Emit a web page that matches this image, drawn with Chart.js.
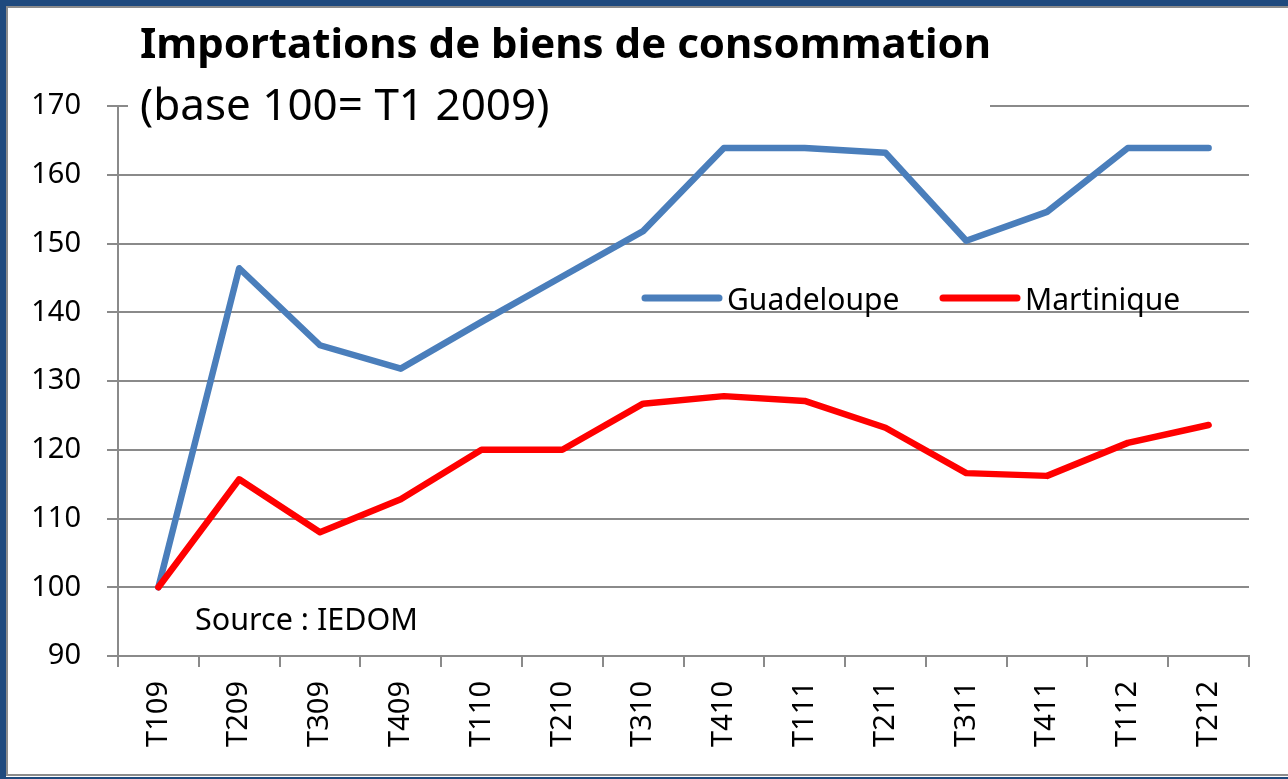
<!DOCTYPE html>
<html>
<head>
<meta charset="utf-8">
<script src="https://cdn.jsdelivr.net/npm/chart.js@4/dist/chart.umd.min.js"></script>
<style>
  html, body { margin:0; padding:0; background:#fff; }
  #wrap { position:relative; width:1288px; height:779px; overflow:hidden; }
  #chart { position:absolute; left:0; top:0; }
  /* cadre bleu + filet gris, comme la capture */
  .fb { position:absolute; background:#1f4a7e; }
  .fg { position:absolute; background:#8c8c8c; }
</style>
</head>
<body>
<div id="wrap">
  <canvas id="chart" width="1288" height="779"></canvas>
  <div class="fb" style="left:0;top:0;width:1288px;height:6px"></div>
  <div class="fb" style="left:0;top:0;width:6px;height:779px"></div>
  <div class="fb" style="left:0;top:777px;width:1288px;height:2px"></div>
  <div class="fg" style="left:6px;top:6px;width:1282px;height:2px"></div>
  <div class="fg" style="left:6px;top:6px;width:2px;height:770px"></div>
  <div class="fg" style="left:6px;top:774px;width:1282px;height:2px"></div>
</div>
<script>
// données
const trimestres = ['T109','T209','T309','T409','T110','T210','T310','T410','T111','T211','T311','T411','T112','T212'];
const guadeloupe = [100, 146.4, 135.2, 131.8, 138.6, 145.2, 151.8, 163.9, 163.9, 163.2, 150.4, 154.6, 163.9, 163.9];
const martinique = [100, 115.7, 108.0, 112.8, 120.0, 120.0, 126.7, 127.8, 127.1, 123.2, 116.6, 116.2, 121.0, 123.6];
const yTicks = [90, 100, 110, 120, 130, 140, 150, 160, 170];

const FONT = '"Noto Sans", "Open Sans", sans-serif';
const GRID = '#8a8a8a';

// titre avec fond blanc (cache la ligne 170 comme dans Excel)
const titlePlugin = {
  id: 'titre',
  afterDraw(chart){
    const ctx = chart.ctx;
    ctx.save();
    ctx.fillStyle = '#fff';
    ctx.fillRect(128, 10, 862, 125);
    ctx.fillStyle = '#000';
    ctx.textAlign = 'left';
    ctx.textBaseline = 'alphabetic';
    ctx.font = 'bold 42px ' + FONT;
    ctx.fillText('Importations de biens de consommation', 140, 58);
    ctx.font = '44px ' + FONT;
    ctx.fillText('(base 100= T1 2009)', 140, 120);
    ctx.font = '30.5px ' + FONT;
    ctx.fillText('Source : IEDOM', 195, 630);
    ctx.restore();
  }
};

// légende dans la zone du graphique
const legendPlugin = {
  id: 'legende',
  afterDatasetsDraw(chart){
    const ctx = chart.ctx;
    const items = [
      { ds: chart.data.datasets[1], x: 645 },
      { ds: chart.data.datasets[0], x: 943 }
    ];
    ctx.save();
    items.forEach(it => {
      ctx.strokeStyle = it.ds.borderColor;
      ctx.lineWidth = 7;
      ctx.lineCap = 'round';
      ctx.beginPath();
      ctx.moveTo(it.x, 298);
      ctx.lineTo(it.x + 74, 298);
      ctx.stroke();
      ctx.fillStyle = '#000';
      ctx.font = '30px ' + FONT;
      ctx.textBaseline = 'alphabetic';
      ctx.fillText(it.ds.label, it.x + 82, 310);
    });
    ctx.restore();
  }
};

new Chart(document.getElementById('chart'), {
  type: 'line',
  data: {
    labels: trimestres,
    datasets: [
      { label: 'Martinique', data: martinique, borderColor: '#ff0000', borderWidth: 6.5, order: 0 },
      { label: 'Guadeloupe', data: guadeloupe, borderColor: '#4a7ebb', borderWidth: 6.5, order: 1 }
    ]
  },
  options: {
    responsive: false,
    animation: false,
    events: [],
    layout: { padding: { left: 0, right: 39, top: 106, bottom: 0 } },
    elements: {
      line: { tension: 0, borderJoinStyle: 'round', borderCapStyle: 'round', fill: false },
      point: { radius: 0 }
    },
    plugins: { legend: { display: false }, tooltip: { enabled: false }, title: { display: false } },
    scales: {
      x: {
        offset: true,
        grid: { offset: true, drawOnChartArea: false, drawTicks: true, tickLength: 11, color: GRID, lineWidth: 2 },
        border: { display: true, color: GRID, width: 2 },
        ticks: { color: '#000', font: { family: FONT, size: 29 }, minRotation: 90, maxRotation: 90, padding: 14 },
        afterFit(s){ s.height = 123; }
      },
      y: {
        min: 90, max: 170,
        afterBuildTicks(s){ s.ticks = yTicks.map(v => ({ value: v })); },
        grid: { color: GRID, lineWidth: 2, tickLength: 11 },
        border: { display: true, color: GRID, width: 2 },
        ticks: { color: '#000', font: { family: FONT, size: 29 }, padding: 26 },
        afterFit(s){ s.width = 118; }
      }
    }
  },
  plugins: [titlePlugin, legendPlugin]
});
</script>
</body>
</html>
